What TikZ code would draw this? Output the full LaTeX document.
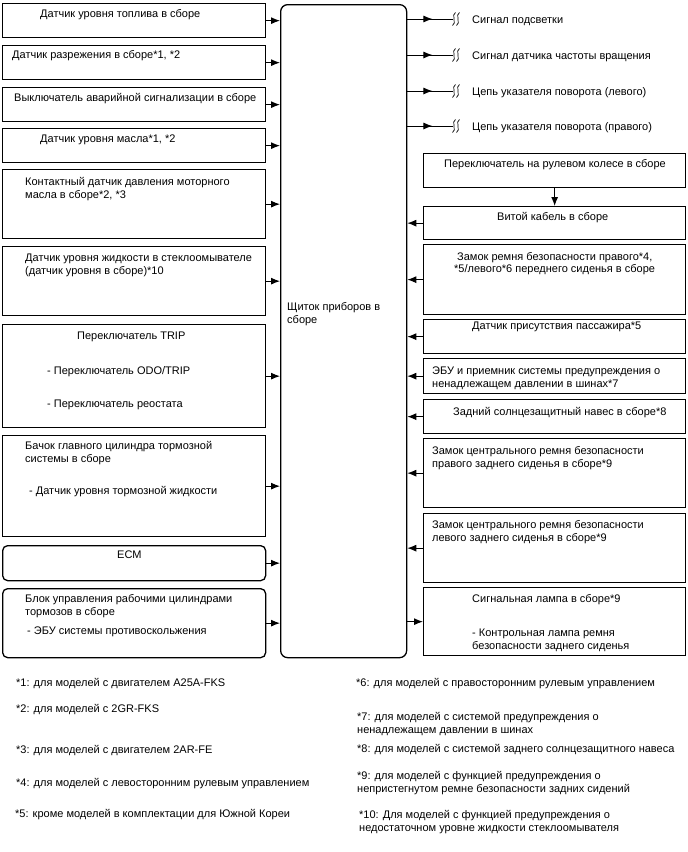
\documentclass[tikz,border=0pt]{standalone}
\usepackage{fontspec}
\setmainfont{Liberation Sans}
\usetikzlibrary{arrows.meta,decorations.markings}
\begin{document}
\begin{tikzpicture}[x=1pt,y=-1pt,
  box/.style={draw,line width=1.3pt,rectangle,inner sep=0pt,anchor=north west},
  rbox/.style={box,rounded corners=5pt},
  txt/.style={anchor=base west,inner sep=0pt,align=left,font=\fontsize{11}{12.8}\selectfont},
  arr/.style={line width=1pt,-{Latex[length=9pt,width=7pt]}},
  midarr/.style={line width=1pt,postaction={decorate},decoration={markings,mark=at position 0.55 with {\arrow{Latex[length=9pt,width=7pt]}}}},
  sq/.style={line width=0.7pt}
]
\useasboundingbox (0,0) rectangle (688,852);
% center box
\node[box,rounded corners=7pt,minimum width=126pt,minimum height=653pt] (cb) at (280,4) {};
\node[txt] (ct) at (287,323) {Щиток приборов в\\сборе};
% left boxes
\node[box,minimum width=263pt,minimum height=34pt] (l1) at (2,3) {};
\node[box,minimum width=263pt,minimum height=34pt] (l2) at (2,45) {};
\node[box,minimum width=263pt,minimum height=34pt] (l3) at (2,87) {};
\node[box,minimum width=263pt,minimum height=34pt] (l4) at (2,128) {};
\node[box,minimum width=263pt,minimum height=69pt] (l5) at (2,169) {};
\node[box,minimum width=263pt,minimum height=69pt] (l6) at (2,246) {};
\node[box,minimum width=263pt,minimum height=103pt] (l7) at (2,324) {};
\node[box,minimum width=263pt,minimum height=101pt] (l8) at (2,435) {};
\node[rbox,minimum width=263pt,minimum height=35pt] (l9) at (2,545) {};
\node[rbox,minimum width=263pt,minimum height=69pt] (l10) at (2,588) {};
\node[txt] (t1) at (40,17) {Датчик уровня топлива в сборе};
\node[txt] (t2) at (12,58) {Датчик разрежения в сборе*1, *2};
\node[txt] (t3) at (14,101) {Выключатель аварийной сигнализации в сборе};
\node[txt] (t4) at (40,142) {Датчик уровня масла*1, *2};
\node[txt] (t5) at (25,198) {Контактный датчик давления моторного\\масла в сборе*2, *3};
\node[txt] (t6) at (25,274) {Датчик уровня жидкости в стеклоомывателе\\(датчик уровня в сборе)*10};
\node[txt] (t7a) at (77,339) {Переключатель TRIP};
\node[txt] (t7b) at (47,374) {- Переключатель ODO/TRIP};
\node[txt] (t7c) at (47,407) {- Переключатель реостата};
\node[txt] (t8a) at (25,462) {Бачок главного цилиндра тормозной\\системы в сборе};
\node[txt] (t8b) at (29,494) {- Датчик уровня тормозной жидкости};
\node[txt] (t9) at (117,558) {ECM};
\node[txt] (t10a) at (25,615) {Блок управления рабочими цилиндрами\\тормозов в сборе};
\node[txt] (t10b) at (27,634) {- ЭБУ системы противоскольжения};
\foreach \n in {l1,l2,l3,l4,l5,l6,l7,l8,l9,l10}
  \draw[arr] (\n.east) -- (\n.east -| cb.west);
% outputs
\foreach \i/\y/\t in {1/19/Сигнал подсветки,2/55/Сигнал датчика частоты вращения,3/91/Цепь указателя поворота (левого),4/126/Цепь указателя поворота (правого)}{
  \coordinate (o\i) at (453,\y);
  \draw[midarr] (cb.east |- o\i) -- (o\i);
  \draw[sq] (455.5,\y-6.5) .. controls (451,\y-5) and (457,\y+5) .. (452.5,\y+6.5);
  \draw[sq] (459.5,\y-6.5) .. controls (455,\y-5) and (461,\y+5) .. (456.5,\y+6.5);
  \node[txt] (ot\i) at (472,\y+4) {\t};
}
% right boxes
\node[box,minimum width=262pt,minimum height=34pt] (rs) at (423,153) {};
\node[box,minimum width=262pt,minimum height=33pt] (rc) at (423,206) {};
\node[box,minimum width=262pt,minimum height=70pt] (r1) at (423,244) {};
\node[box,minimum width=262pt,minimum height=34pt] (r2) at (423,319) {};
\node[box,minimum width=262pt,minimum height=35pt] (r3) at (423,358) {};
\node[box,minimum width=262pt,minimum height=34pt] (r4) at (423,399) {};
\node[box,minimum width=262pt,minimum height=69pt] (r5) at (423,438) {};
\node[box,minimum width=262pt,minimum height=69pt] (r6) at (423,513) {};
\node[box,minimum width=262pt,minimum height=68pt] (r7) at (423,587) {};
\node[txt] (ts) at (444,167) {Переключатель на рулевом колесе в сборе};
\node[txt] (tc) at (497,220) {Витой кабель в сборе};
\node[txt] (tr1a) at (457,260) {Замок ремня безопасности правого*4,};
\node[txt] (tr1b) at (454,272) {*5/левого*6 переднего сиденья в сборе};
\node[txt] (tr2) at (472,329) {Датчик присутствия пассажира*5};
\node[txt] (tr3) at (432,387) {ЭБУ и приемник системы предупреждения о\\ненадлежащем давлении в шинах*7};
\node[txt] (tr4) at (453,415) {Задний солнцезащитный навес в сборе*8};
\node[txt] (tr5) at (432,467) {Замок центрального ремня безопасности\\правого заднего сиденья в сборе*9};
\node[txt] (tr6) at (432,541) {Замок центрального ремня безопасности\\левого заднего сиденья в сборе*9};
\node[txt] (tr7a) at (472,602) {Сигнальная лампа в сборе*9};
\node[txt] (tr7b) at (472,649) {- Контрольная лампа ремня\\безопасности заднего сиденья};
\draw[arr] (rs.south) -- (rc.north);
\foreach \n in {rc,r1,r2,r3,r4,r5,r6}
  \draw[arr] (\n.west) -- (\n.west -| cb.east);
\draw[arr] (cb.east |- r7.west) -- (r7.west);
% footnotes
\node[txt] (f1) at (16,686) {*1: для моделей с двигателем A25A-FKS};
\node[txt] (f2) at (16,712) {*2: для моделей с 2GR-FKS};
\node[txt] (f3) at (16,753) {*3: для моделей с двигателем 2AR-FE};
\node[txt] (f4) at (16,786) {*4: для моделей с левосторонним рулевым управлением};
\node[txt] (f5) at (15,817) {*5: кроме моделей в комплектации для Южной Кореи};
\node[txt] (f6) at (356,686) {*6: для моделей с правосторонним рулевым управлением};
\node[txt] (f7) at (357,733) {*7: для моделей с системой предупреждения о\\ненадлежащем давлении в шинах};
\node[txt] (f8) at (357,752) {*8: для моделей с системой заднего солнцезащитного навеса};
\node[txt] (f9) at (357,792) {*9: для моделей с функцией предупреждения о\\непристегнутом ремне безопасности задних сидений};
\node[txt] (f10) at (359,831) {*10: Для моделей с функцией предупреждения о\\недостаточном уровне жидкости стеклоомывателя};
\end{tikzpicture}
\end{document}
